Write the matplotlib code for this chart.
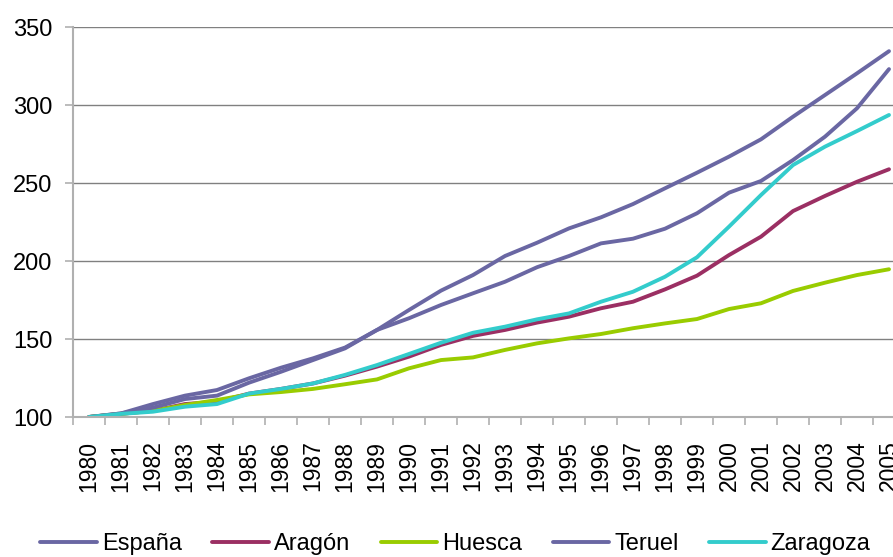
import matplotlib.pyplot as plt
import numpy as np

plt.rcParams['font.family'] = ['Liberation Sans', 'DejaVu Sans']

# años y series (índice 1980 = 100)
years = [str(y) for y in range(1980, 2006)]
espana = [100, 102.3, 108.3, 113.7, 117.3, 124.8, 131.6, 137.6, 144.5, 155.8,
          168.6, 181.0, 191.0, 203.2, 211.7, 220.9, 228.0, 236.5, 246.6, 256.6,
          266.9, 278.0, 292.5, 306.4, 320.3, 334.5]
aragon = [100, 102.0, 104.0, 108.3, 109.8, 115.0, 118.0, 121.5, 126.5, 132.3,
          138.7, 146.2, 152.0, 155.8, 160.5, 164.3, 169.7, 173.9, 181.8, 190.6,
          203.8, 215.6, 232.0, 241.7, 250.8, 258.8]
huesca = [100, 102.0, 104.0, 107.7, 110.9, 114.5, 116.0, 118.0, 121.0, 124.1,
          131.2, 136.5, 138.2, 143.0, 147.2, 150.4, 153.2, 156.9, 160.0, 162.8,
          169.2, 172.9, 180.8, 186.1, 191.0, 194.7]
teruel = [100, 102.3, 106.0, 111.5, 113.7, 122.0, 129.0, 136.5, 144.0, 155.8,
          163.3, 171.8, 179.3, 186.7, 196.0, 203.2, 211.3, 214.3, 220.7, 230.6,
          243.8, 251.3, 264.7, 279.7, 297.9, 323.0]
zaragoza = [100, 102.0, 103.4, 106.6, 108.3, 115.0, 118.0, 121.5, 127.0, 133.3,
            140.4, 147.6, 154.0, 157.9, 162.6, 166.4, 173.9, 180.3, 189.9, 202.4,
            222.0, 242.3, 261.5, 273.3, 283.3, 293.6]

series = [("España", espana, "#6A67A3"),
          ("Aragón", aragon, "#9B2F63"),
          ("Huesca", huesca, "#99CC00"),
          ("Teruel", teruel, "#6A67A3"),
          ("Zaragoza", zaragoza, "#33CCCC")]

fig = plt.figure(figsize=(8.93, 5.57), dpi=100)
ax = fig.add_axes([73 / 893, 140 / 557, 832 / 893, 390 / 557])

x = np.arange(len(years))
for name, vals, col in series:
    ax.plot(x, vals, color=col, lw=2.8, label=name, solid_capstyle='round')

ax.set_xlim(-0.5, len(years) - 0.5)
ax.set_ylim(100, 350)
ax.set_yticks([100, 150, 200, 250, 300, 350])
ax.grid(axis='y', color='#808080', lw=1)
ax.set_axisbelow(True)

ax.set_xticks(x)
ax.set_xticklabels(years, rotation=90)
ax.set_xticks(np.arange(len(years) + 1) - 0.5, minor=True)
ax.tick_params(axis='x', which='major', length=0, pad=17, labelsize=16.5)
ax.tick_params(axis='x', which='minor', length=5.8, color='#B0B0B0', width=1.2)
ax.tick_params(axis='y', length=5.8, color='#B0B0B0', width=1.2, pad=9, labelsize=17)

for s in ['top', 'right']:
    ax.spines[s].set_visible(False)
for s in ['left', 'bottom']:
    ax.spines[s].set_color('#B0B0B0')
    ax.spines[s].set_linewidth(1.5)

fig.legend(loc='center', bbox_to_anchor=(0.51, 13 / 557), ncol=5,
           frameon=False, fontsize=17, handlelength=2.4, columnspacing=1.3,
           handletextpad=0.2)

fig.savefig('out.png', dpi=100)
